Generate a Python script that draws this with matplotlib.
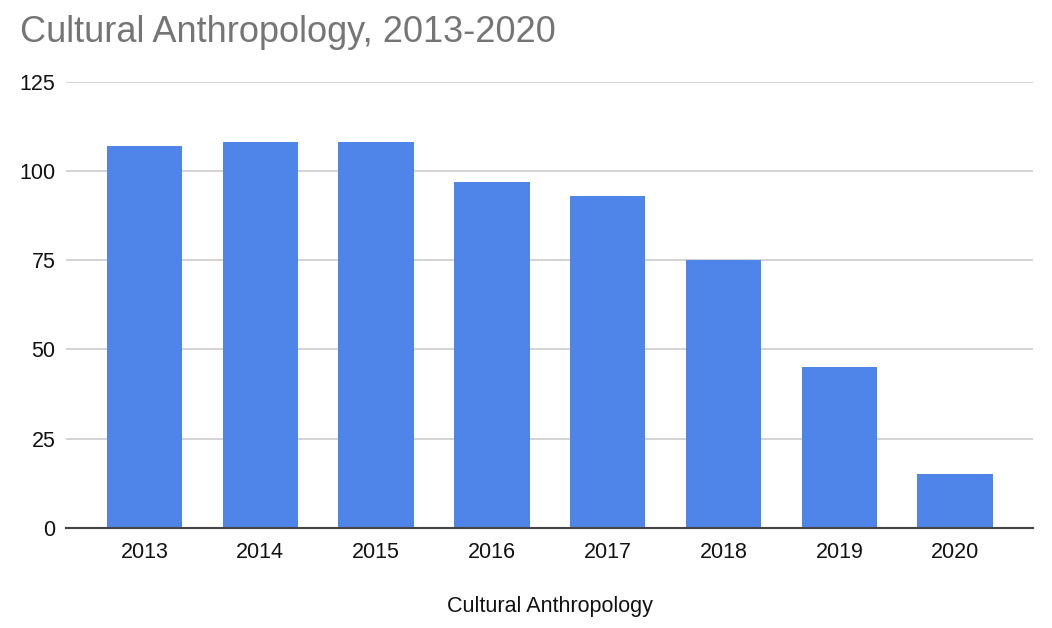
import matplotlib

matplotlib.use("Agg")
import matplotlib.pyplot as plt
import numpy as np

plt.rcParams["font.family"] = ["Liberation Sans", "DejaVu Sans"]

# data
YEARS = ["2013", "2014", "2015", "2016", "2017", "2018", "2019", "2020"]
VALUES = [107, 108, 108, 97, 93, 75, 45, 15]
Y_TICKS = [0, 25, 50, 75, 100, 125]

BAR_COLOR = "#4f84e9"
TITLE = "Cultural Anthropology, 2013-2020"
X_LABEL = "Cultural Anthropology"


def main():
    fig = plt.figure(figsize=(10.52, 6.28), dpi=100)
    ax = fig.add_axes([0.0632, 0.1592, 0.9188, 0.7107])

    x = np.arange(len(YEARS))
    ax.bar(x, VALUES, width=0.65, color=BAR_COLOR, zorder=3)

    ax.set_xlim(-0.674, 7.673)
    ax.set_ylim(0, 125)
    ax.set_yticks(Y_TICKS)
    ax.set_xticks(x)
    ax.set_xticklabels(YEARS)

    ax.grid(axis="y", color="#d0d0d0", linewidth=1.3, zorder=0)
    for side in ["top", "right", "left"]:
        ax.spines[side].set_visible(False)
    ax.spines["bottom"].set_color("#444444")
    ax.spines["bottom"].set_linewidth(1.5)
    ax.spines["bottom"].set_zorder(4)

    ax.tick_params(axis="both", length=0, labelsize=15.5, colors="#111111")
    ax.tick_params(axis="y", pad=8)
    ax.tick_params(axis="x", pad=10)

    ax.set_xlabel(X_LABEL, fontsize=15.5, color="#111111", labelpad=24)

    fig.text(
        20 / 1052,
        1 - 42 / 628,
        TITLE,
        fontsize=26,
        color="#757575",
        ha="left",
        va="baseline",
    )

    fig.savefig("out.png", dpi=100)
    plt.close(fig)


if __name__ == "__main__":
    main()
